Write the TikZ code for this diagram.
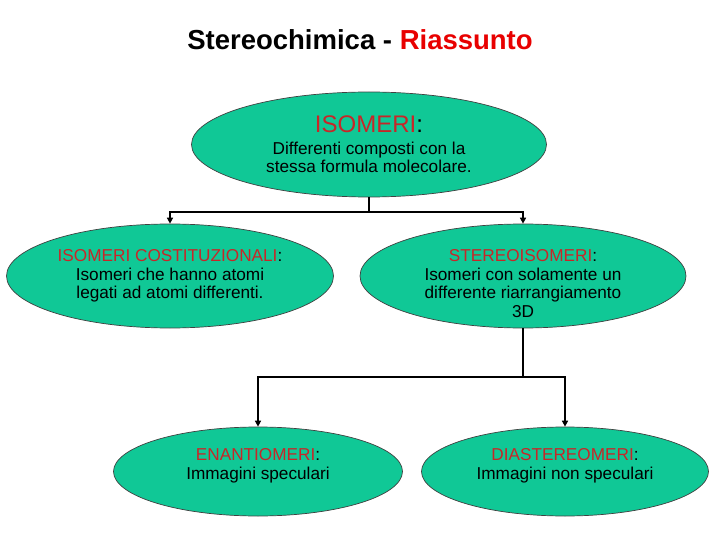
\documentclass[tikz,border=0pt]{standalone}
\usepackage{fontspec}
\setmainfont{Liberation Sans}
\usetikzlibrary{arrows.meta, positioning, shapes.geometric}
\definecolor{isogreen}{RGB}{16,200,150}
\definecolor{isored}{RGB}{200,38,40}
\definecolor{titlered}{RGB}{232,0,0}

\begin{document}
\begin{tikzpicture}[x=1pt, y=-1pt]
                \useasboundingbox (0,0) rectangle (720,540);

                \node[font=\fontsize{27.5}{29}\selectfont\bfseries, anchor=north, inner sep=0] (title) at (360,29)
                  {Stereochimica - \textcolor{titlered}{Riassunto}};

                \begin{scope}[every node/.style = {draw=black!75, line width=0.7pt, ellipse, fill=isogreen, inner sep=0}]
                  \node[minimum width=355, minimum height=105] (iso) at (369,144.5) {};
                  \node[minimum width=327, minimum height=104] (cost) at (170,276) {};
                  \node[minimum width=326, minimum height=104] (stereo) at (523,276) {};
                  \node[minimum width=289, minimum height=89] (enan) at (258,471.5) {};
                  \node[minimum width=287, minimum height=89] (diast) at (565,471.5) {};
                \end{scope}

                \begin{scope}[every node/.style = {align=center, anchor=north, inner sep=0, font=\fontsize{17.2}{18.6}\selectfont}]
                  \node (iso-t) at (369,116) {{\fontsize{24}{24}\selectfont\textcolor{isored}{ISOMERI}:}\\[2.5pt]
                    Differenti composti con la\\ stessa formula molecolare.};
                  \node (cost-t) at (170,249.5) {\textcolor{isored}{ISOMERI COSTITUZIONALI}:\\
                    Isomeri che hanno atomi\\ legati ad atomi differenti.};
                  \node (stereo-t) at (523,249.5) {\textcolor{isored}{STEREOISOMERI}:\\
                    Isomeri con solamente un\\ differente riarrangiamento\\ 3D};
                  \node (enan-t) at (258,448.5) {\textcolor{isored}{ENANTIOMERI}:\\ Immagini speculari};
                  \node (diast-t) at (565,448.5) {\textcolor{isored}{DIASTEREOMERI}:\\ Immagini non speculari};
                \end{scope}

                \begin{scope}[every path/.style={draw=black, line width=1.8pt, -{Triangle[width=6pt,length=6pt]}}]
                  \path (iso.south) -- ++(0,15) -| (cost.north);
                  \path (iso.south) -- ++(0,15) -| (stereo.north);
                  \path (stereo.south) -- ++(0,49) -| (enan.north);
                  \path (stereo.south) -- ++(0,49) -| (diast.north);
                \end{scope}
              \end{tikzpicture}
\end{document}
